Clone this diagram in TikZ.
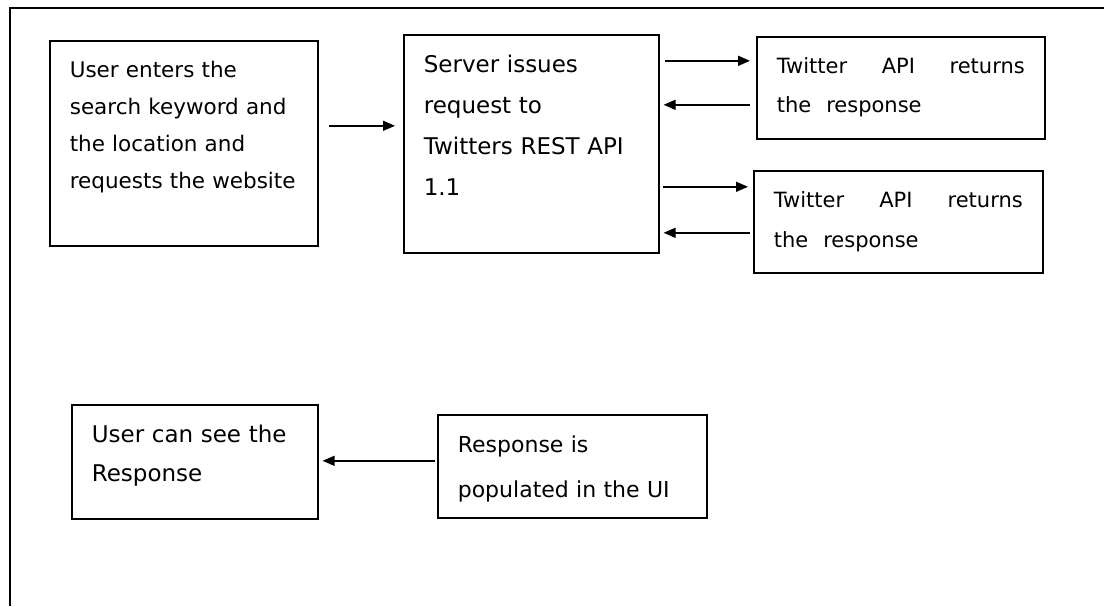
\documentclass[tikz,border=0pt]{standalone}
\usepackage{fontspec}
\setmainfont{DejaVu Sans}
\usepackage{tikz}
\usetikzlibrary{arrows.meta}

\tikzset{
  stepbox/.style={draw, line width=1.6pt, anchor=north west, align=left,
    inner xsep=20pt, inner ysep=0pt, font=\fontsize{21.5}{37}\selectfont},
  arr/.style={-{Triangle[length=12pt,width=10pt]}, line width=1.5pt}
}

\begin{document}
\begin{tikzpicture}[x=1pt, y=-1pt]
  \useasboundingbox (0,0) rectangle (1104,606);

  % Frame
  \draw[line width=1.6pt] (10,606) -- (10,8) -- (1104,8);

  % Nodes
  \node[stepbox, text width=228pt, text height=37pt, text depth=168pt] (user) at (49,40)
    {User enters the\\search keyword and\\the location and\\requests the website};
  \node[stepbox, text width=215pt, text height=38pt, text depth=180pt,
    font=\fontsize{23}{41}\selectfont] (server) at (403,34)
    {Server issues\\request to\\Twitters REST API\\1.1};
  \node[stepbox, text width=248pt, text height=37pt, text depth=65pt,
    font=\fontsize{21}{39}\selectfont] (api1) at (756,36)
    {Twitter\hfill API\hfill returns\\the\hspace{15pt}response};
  \node[stepbox, text width=249pt, text height=37pt, text depth=65pt,
    font=\fontsize{21}{40}\selectfont] (api2) at (753,170)
    {Twitter\hfill API\hfill returns\\the\hspace{15pt}response};
  \node[stepbox, text width=206pt, text height=38pt, text depth=76pt,
    font=\fontsize{23}{39}\selectfont] (see) at (71,404)
    {User can see the\\Response};
  \node[stepbox, text width=229pt, text height=38pt, text depth=65pt,
    font=\fontsize{22}{45}\selectfont] (ui) at (437,414)
    {Response is\\populated in the UI};

  % Arrows
  \draw[arr] ([xshift=10pt,yshift=17.5pt]user.east) -- ([xshift=-8pt,yshift=18pt]server.west);
  \draw[arr] ([xshift=5pt,yshift=83pt]server.east) -- ([xshift=-6pt,yshift=27pt]api1.west);
  \draw[arr] ([xshift=-6pt,yshift=-17pt]api1.west) -- ([xshift=4pt,yshift=39pt]server.east);
  \draw[arr] ([xshift=3pt,yshift=-43pt]server.east) -- ([xshift=-5pt,yshift=35pt]api2.west);
  \draw[arr] ([xshift=-3pt,yshift=-11pt]api2.west) -- ([xshift=4pt,yshift=-89pt]server.east);
  \draw[arr] ([xshift=-2pt,yshift=5.5pt]ui.west) -- ([xshift=4pt,yshift=1pt]see.east);
\end{tikzpicture}
\end{document}
